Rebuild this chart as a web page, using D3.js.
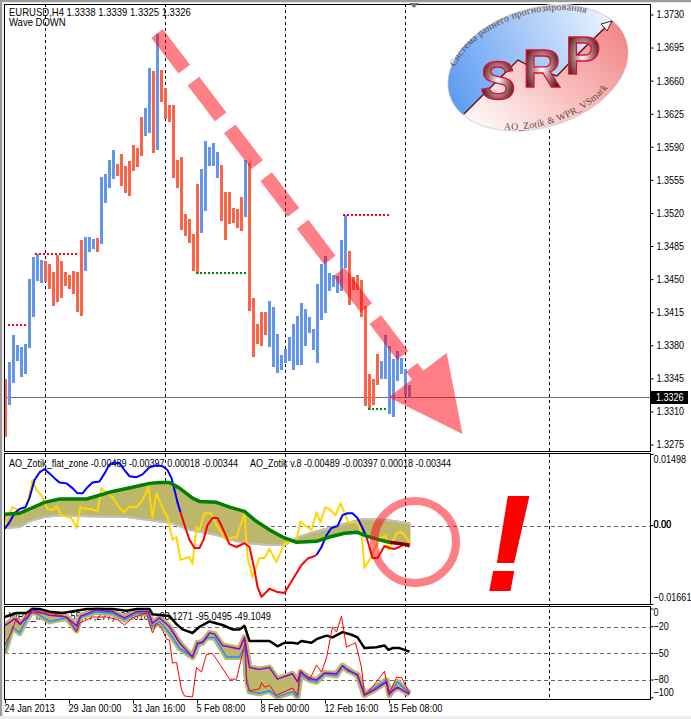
<!DOCTYPE html>
<html><head><meta charset="utf-8">
<script src="https://cdn.jsdelivr.net/npm/d3@7/dist/d3.min.js"></script>
<style>
html,body{margin:0;padding:0;background:#fff;overflow:hidden}
svg{display:block}
text{font-family:"Liberation Sans",sans-serif;font-size:10.5px;fill:#000}
.axis path.domain{display:none}
.axis line{stroke:#000}
.axis text{font-family:"Liberation Sans",sans-serif;font-size:10.5px}
</style></head><body>
<svg id="c" width="691" height="719"></svg>
<script>
// ---------- price bars (H4 EURUSD), one entry per bar ----------
const barHigh=[1.3345,1.3363,1.3391,1.3381,1.3379,1.3382,1.3451,1.3474,1.3477,1.3471,1.3470,1.3467,1.3458,1.3476,1.3470,1.3458,1.3455,1.3459,1.3458,1.3492,1.3495,1.3495,1.3493,1.3494,1.3559,1.3562,1.3577,1.3587,1.3572,1.3583,1.3570,1.3576,1.3592,1.3589,1.3622,1.3632,1.3674,1.3671,1.3710,1.3672,1.3653,1.3635,1.3635,1.3577,1.3580,1.3519,1.3514,1.3498,1.3551,1.3567,1.3597,1.3590,1.3595,1.3585,1.3571,1.3543,1.3543,1.3526,1.3525,1.3537,1.3577,1.3573,1.3431,1.3403,1.3416,1.3416,1.3427,1.3421,1.3392,1.3370,1.3377,1.3389,1.3403,1.3411,1.3425,1.3419,1.3410,1.3398,1.3445,1.3466,1.3475,1.3457,1.3455,1.3454,1.3492,1.3518,1.3480,1.3453,1.3455,1.3450,1.3422,1.3350,1.3345,1.3371,1.3364,1.3391,1.3380,1.3366,1.3374,1.3367,1.3355,1.3339];
const barLow=[1.3283,1.3317,1.3341,1.3364,1.3347,1.3350,1.3378,1.3410,1.3449,1.3446,1.3448,1.3440,1.3422,1.3426,1.3431,1.3443,1.3440,1.3435,1.3416,1.3411,1.3459,1.3479,1.3482,1.3479,1.3488,1.3531,1.3547,1.3556,1.3560,1.3549,1.3542,1.3539,1.3565,1.3569,1.3581,1.3602,1.3605,1.3584,1.3587,1.3638,1.3620,1.3617,1.3557,1.3547,1.3503,1.3496,1.3489,1.3459,1.3456,1.3499,1.3523,1.3570,1.3570,1.3557,1.3512,1.3492,1.3509,1.3510,1.3505,1.3501,1.3516,1.3417,1.3368,1.3382,1.3380,1.3391,1.3379,1.3358,1.3351,1.3354,1.3362,1.3364,1.3354,1.3360,1.3360,1.3380,1.3393,1.3375,1.3362,1.3407,1.3415,1.3438,1.3442,1.3436,1.3438,1.3462,1.3423,1.3439,1.3439,1.3410,1.3316,1.3312,1.3317,1.3339,1.3345,1.3345,1.3308,1.3305,1.3343,1.3350,1.3328,1.3325];
const barDir="d"+"u".repeat(9)+"d".repeat(10)+"uuu"+"d"+"uuuu"+"d".repeat(7)+"uu"+"d"+"u"+"d".repeat(10)+"u".repeat(5)+"d".repeat(6)+"u"+"d".repeat(5)+"u".repeat(20)+"d".repeat(8)+"u".repeat(8);
const lastPrice=1.3326;
const priceTicks=[1.3730,1.3695,1.3660,1.3625,1.3590,1.3555,1.3520,1.3485,1.3450,1.3415,1.3380,1.3345,1.3310,1.3275];
// zigzag levels: [fromBar,toBar,price]
const zigHigh=[[0.5,5.25,1.3402],[7.25,17.75,1.3477],[84.25,95.75,1.3518]];
const zigLow=[[47.5,60,1.3457],[90.5,95,1.3313]];
// time axis
const gridBars=[10,40,70,100,136];
const timeBars=[0,16,32,48,64,80,96];
const timeLabels=["24 Jan 2013","29 Jan 00:00","31 Jan 16:00","5 Feb 08:00","8 Feb 00:00","12 Feb 16:00","15 Feb 08:00"];
// ---------- AO_Zotik panel: [bar, value] ----------
const aoLine=[[-.25,-.0007],[1,.0007],[2.25,.0026],[3.5,.0035],[5,.0039],[6,.0058],[7.25,.0096],[8.5,.0112],[9.75,.0119],[11,.0110],[12.25,.0100],[13.5,.0091],[15.25,.0089],[16.75,.0079],[18,.0068],[19.25,.0068],[20.5,.0081],[21.75,.0091],[23.5,.0093],[24.75,.0110],[26,.0129],[27.25,.0133],[28.5,.0131],[29.75,.0117],[31,.0104],[32.75,.0102],[34.25,.0108],[36,.0123],[37.75,.0127],[39.25,.0125],[40.5,.0117],[41.5,.0100],[42.25,.0075],[43,.0049],[43.75,.0028],[44.75,.0001],[46,-.0030],[47.25,-.0047],[48.5,-.0047],[49.5,-.0030],[50.5,.0001],[51.75,.0016],[53,.0016],[54.25,-.0005],[56,-.0039],[57.75,-.0045],[59.75,-.0037],[61,-.0045],[62.25,-.0093],[63,-.0129],[64,-.0150],[66,-.0133],[68,-.0140],[69.75,-.0142],[71.75,-.0114],[74,-.0083],[75.75,-.0068],[76.75,-.0066],[77.75,-.0062],[79,-.0045],[80.25,-.0020],[81.5,-.0005],[83,-.0001],[84.25,.0022],[85.5,.0026],[86.75,.0026],[88,.0016],[89.25,-.0005],[90.25,-.0024],[91.75,-.0068],[93,-.0068],[94.75,-.0043],[96,-.0047],[97.25,-.0049],[98.5,-.0045],[99.75,-.0039],[101,-.0045]];
const aoSwitchBars=[43.75,77.75,90.25]; // blue → red → blue → red
const aoGreen=[[-.25,.0024],[3.5,.0026],[6,.0035],[9.75,.0049],[13.5,.0056],[20.25,.0056],[23.5,.0064],[26.75,.0072],[31.75,.0081],[36,.0089],[38.5,.0091],[41,.0091],[43.5,.0079],[46.75,.0058],[48.5,.0051],[52.75,.0049],[56,.0039],[59.75,.0030],[62.25,.0012],[66,-.0009],[69.75,-.0026],[72.75,-.0035],[77.75,-.0033],[81,-.0024],[84.75,-.0016],[88,-.0014],[90.25,-.0022],[93.5,-.0030],[96,-.0035],[101,-.0041]];
const aoGreenDarkFrom=96;
const aoGrey=[[-.25,-.0005],[3.5,-.0003],[6,.0009],[9.75,.0018],[13.5,.0022],[20.25,.0020],[30.25,.0018],[36,.0012],[41.75,.0005],[46,-.0009],[52.75,-.0020],[58.5,-.0035],[61,-.0037],[66,-.0041],[69.75,-.0041],[72.75,-.0026],[76,-.0016],[81,-.0005],[84.25,.0003],[89.25,.0014],[95.25,.0012],[101,.0005]];
const aoYellow=[[-.25,-.0003],[.5,.0018],[1.75,.0039],[3,.0033],[4,.0022],[5.25,.0043],[6.25,.0075],[6.75,.0096],[7.75,.0075],[9,.0064],[9.75,.0049],[10.5,.0035],[11.75,.0033],[12.75,.0041],[14,.0022],[16.5,.0016],[17.75,-.0005],[18.75,.0039],[20,.0035],[21.5,.0035],[23,.0030],[24,.0079],[25.25,.0068],[26.75,.0060],[28,.0043],[29.5,.0028],[31,.0039],[32.75,.0039],[34.25,.0054],[35.75,.0081],[36.75,.0018],[37.75,.0068],[39.25,.0037],[40.5,.0018],[41.75,-.0030],[42.75,-.0024],[43.75,-.0072],[46,-.0066],[46.75,-.0081],[47.75,-.0003],[48.5,-.0009],[49.75,.0026],[51.5,.0026],[52.75,.0001],[55.25,-.0030],[56.75,-.0024],[57.75,-.0026],[59.75,.0026],[60.5,-.0066],[61.75,-.0108],[63.5,-.0068],[64.75,-.0068],[66,-.0049],[67.75,-.0077],[69.75,-.0037],[72.75,-.0030],[73.75,.0009],[74.75,.0001],[76.5,-.0009],[77.75,.0028],[78.75,.0007],[80,.0039],[81,.0035],[82.5,.0022],[83.75,.0047],[85.25,.0016],[85.75,.0007],[88,.0007],[89,-.0016],[89.75,-.0089],[91,-.0072],[92.75,-.0041],[94,-.0024],[95,-.0022],[95.75,-.0051],[96.75,-.0033],[98,-.0014],[99,-.0014],[100,-.0022],[101,-.0037]];
const aoTicks=[0.01498,0,-0.01661];
const aoLevels=[0];
// ---------- WPR panel: [bar, value] ----------
const wprBlack=[[-.25,-9],[2.75,-4.5],[5.25,-4.5],[6.75,0],[8.5,0],[11,-3],[14.25,-4.5],[17.75,-2],[20.25,0],[23.5,0],[26.75,0],[30.25,-2],[32.75,0],[36,0],[36.75,-6],[39.25,-7],[41,-8],[42.75,-17],[44.25,-23],[46.75,-27],[48.5,-20],[51,-14],[54.25,-18],[56.75,-23],[58.5,-23],[59.75,-19],[61,-36],[63.5,-36],[66,-36],[68,-42],[69.75,-38],[71.75,-38],[73,-39],[74,-36],[76.5,-38],[77.75,-34],[80.25,-30],[81.75,-32],[84.25,-26],[86.5,-29],[88,-32],[89.75,-44],[92.75,-43],[94.75,-41],[95.75,-46],[96.75,-44],[98.5,-44],[101,-48]];
const wprRed=[[-.25,-41],[1.5,-26],[2.75,-10],[3.75,-18],[4.75,-10],[5.5,-4.5],[11,-4.5],[15.25,-9],[17.75,-26],[18.5,-16],[21.75,-9],[25.25,-9],[28,-12],[29.75,-18],[31.75,-10],[35.25,-4.5],[36.75,-27],[37.75,-16],[39,-21],[40.25,-34],[41,-35],[41.75,-61],[42.75,-60],[44,-91],[44.75,-98],[46.75,-99],[47.75,-66],[49,-71],[50.25,-51],[51.75,-50],[54,-65],[56,-79],[57.75,-79],[59.25,-50],[60,-35],[60.25,-83],[61,-92],[63.5,-90],[64,-83],[64.75,-88],[66,-86],[67.75,-97],[71.75,-89],[73,-97],[73.75,-69],[74.75,-74],[76,-80],[77.75,-63],[79,-71],[80.25,-55],[81.75,-20],[82.75,-26],[84,-8],[85.25,-43],[87.5,-38],[89,-66],[89.75,-97],[91.75,-88],[94.75,-70],[95.75,-97],[97.75,-77],[99,-77],[101,-95]];
const wprPurple=[[-.25,-19],[2.25,-11],[3.5,-17],[5.5,-9],[6.75,-1],[11,-7],[15.25,-9],[17.75,-19],[18.75,-8],[22.75,-1],[26.75,-3],[29.75,-10],[32.75,-3],[35.75,-3],[36.75,-16],[38.5,-10],[41,-20],[43.5,-38],[46.75,-54],[48,-38],[49.25,-38],[51,-27],[52.25,-28],[54.25,-41],[58.5,-45],[59.75,-32],[61,-66],[63.5,-68],[66,-66],[68,-79],[71.75,-73],[73,-82],[73.75,-71],[76,-78],[77.75,-80],[79.75,-72],[82.75,-73],[84.25,-64],[85.5,-69],[88,-74],[89.75,-97],[92.25,-91],[95.25,-82],[96,-95],[98,-88],[101,-96]];
const wprBlue=[[-.25,-50],[1.75,-20],[3.5,-27],[5.5,-10],[6.75,-2],[11,-14],[15.25,-10],[17.75,-24],[18.75,-9],[22.75,-3],[26.75,-5],[29.75,-12],[32.75,-5],[35.75,-5],[36.75,-20],[38.5,-14],[41,-27],[43.5,-44],[46.75,-54],[48,-41],[50.5,-32],[52.25,-32],[55.25,-54],[58.5,-54],[59.75,-43],[60.25,-77],[61,-93],[63.5,-95],[66,-92],[68,-99],[71.75,-93],[73,-99],[73.75,-74],[76,-80],[77.75,-82],[79.75,-73],[82.75,-75],[84.25,-64],[88,-75],[89.75,-97],[92.25,-89],[95.25,-80],[96,-97],[98,-82],[101,-95]];
const wprTicks=[0,-20,-50,-80,-100];
const wprLevels=[-20,-50,-80];
// annotation arrow: [bar, price]
const arrowStart=[37.875,1.37105], arrowTip=[114.25,1.32867];
// ---------- texts ----------
const titleMain="EURUSD,H4  1.3338 1.3339 1.3325 1.3326", subMain="Wave DOWN";
const titleAO1="AO_Zotik_flat_zone -0.00489 -0.00397 0.00018 -0.00344", titleAO2="AO_Zotik v.8 -0.00489 -0.00397 0.00018 -0.00344";
const titleWPR="WPR_filled(21,55,77,277) -98.6161 -93.1271 -95.0495 -49.1049";
const logoTop="Система раннего прогнозирования", logoBottom="AO_Zotik & WPR_VSmark", logoLetters=["S","R","P"];

const svg=d3.select("#c");
const R=650,L=5,T=4,B1=451,T2=453,B2=604,T3=606,B3=699;
const x=d3.scaleLinear().domain([0,101]).range([5.5,409.5]);
const y=d3.scaleLinear().domain([1.3730,1.3275]).range([15,445]);
const yA=d3.scaleLinear().domain([0.01498,-0.01661]).range([454.5,604.5]);
const yW=d3.scaleLinear().domain([0,-100]).range([609,697.8]);
// narrow the labels to the width of the original bitmap font
const condense=(sel,f)=>sel.each(function(){const n=this.getComputedTextLength();d3.select(this).attr("textLength",n*f).attr("lengthAdjust","spacingAndGlyphs");});
// chrome
svg.append("rect").attr("width",691).attr("height",719).attr("fill","#fff");
svg.append("rect").attr("x",0).attr("y",0).attr("width",691).attr("height",3).attr("fill","#e8e8e8");
svg.append("rect").attr("x",0).attr("y",0).attr("width",2).attr("height",719).attr("fill","#9a9a9a");
svg.append("rect").attr("x",2).attr("y",0).attr("width",2).attr("height",719).attr("fill","#ececec");
svg.append("rect").attr("x",0).attr("y",0).attr("width",691).attr("height",2).attr("fill","#9a9a9a");
svg.append("rect").attr("x",0).attr("y",716).attr("width",691).attr("height",3).attr("fill","#eeeeee");
const defs=svg.append("defs");
[["cp1",T,B1],["cp2",T2,B2],["cp3",T3,B3]].forEach(([id,a,b])=>defs.append("clipPath").attr("id",id).append("rect").attr("x",L).attr("y",a).attr("width",R-L).attr("height",b-a));
// vertical grid
svg.append("g").selectAll("line").data(gridBars).join("line")
 .attr("x1",d=>x(d)).attr("x2",d=>x(d)).attr("y1",T).attr("y2",B3)
 .attr("stroke","#000").attr("stroke-dasharray","3,3").attr("shape-rendering","crispEdges");
const hl=(vals,sc)=>svg.append("g").selectAll("line").data(vals).join("line")
 .attr("x1",L).attr("x2",R).attr("y1",d=>Math.round(sc(d))+.5).attr("y2",d=>Math.round(sc(d))+.5)
 .attr("stroke","#666").attr("stroke-dasharray","4,3");
hl(aoLevels,yA);hl(wprLevels,yW);
// bars
const g1=svg.append("g").attr("clip-path","url(#cp1)");
g1.append("line").attr("x1",L).attr("x2",R).attr("y1",Math.round(y(lastPrice))+.5).attr("y2",Math.round(y(lastPrice))+.5).attr("stroke","#707070");
g1.selectAll("rect.bar").data(barHigh).join("rect").attr("class","bar")
 .attr("x",(d,i)=>x(i)-1.5).attr("width",3)
 .attr("y",d=>y(d)).attr("height",(d,i)=>y(barLow[i])-y(d))
 .attr("fill",(d,i)=>barDir[i]==="u"?"#6495ED":"#FF6347").attr("shape-rendering","crispEdges");
const zig=(arr,col)=>g1.append("g").selectAll("line").data(arr).join("line")
 .attr("x1",d=>x(d[0])).attr("x2",d=>x(d[1])).attr("y1",d=>Math.round(y(d[2]))+.0).attr("y2",d=>Math.round(y(d[2])))
 .attr("stroke",col).attr("stroke-width",2).attr("stroke-dasharray","2,2").attr("shape-rendering","crispEdges");
zig(zigHigh,"#ff0022");zig(zigLow,"#008a10");
// AO panel
const g2=svg.append("g").attr("clip-path","url(#cp2)");
const lnA=d3.line().x(d=>x(d[0])).y(d=>yA(d[1]));
const lnW=d3.line().x(d=>x(d[0])).y(d=>yW(d[1]));
const poly=(a,b,ln)=>ln(a)+"L"+ln(b.slice().reverse()).slice(1)+"Z";
g2.append("path").attr("d",poly(aoGreen,aoGrey,lnA)).attr("fill","#BDB76B").attr("stroke","#BDB76B").attr("stroke-width",2);
const stroke=(g,ln,data,col,w)=>g.append("path").attr("d",ln(data)).attr("fill","none").attr("stroke",col).attr("stroke-width",w).attr("stroke-linejoin","round");
svg.append("text").attr("x",9).attr("y",467).text(titleAO1).call(condense,.86);
svg.append("text").attr("x",250).attr("y",467).text(titleAO2).call(condense,.86);
const g2b=svg.append("g").attr("clip-path","url(#cp2)");
stroke(g2b,lnA,aoGrey,"#c0c0c0",2);
stroke(g2b,lnA,aoYellow,"#FFD700",2);
const sw=aoSwitchBars,pieces=[[-1,sw[0],"#0000ff"],[sw[0],sw[1],"#ff0000"],[sw[1],sw[2],"#0000ff"],[sw[2],102,"#ff0000"]];
pieces.forEach(([a,b,c])=>stroke(g2b,lnA,aoLine.filter(d=>d[0]>=a&&d[0]<=b),c,2));
stroke(g2b,lnA,aoGreen.filter(d=>d[0]<=aoGreenDarkFrom),"#008000",3.5);
stroke(g2b,lnA,aoGreen.filter(d=>d[0]>=aoGreenDarkFrom),"#800000",3.5);
// WPR panel
svg.append("text").attr("x",9).attr("y",620).text(titleWPR).call(condense,.88);
const g3=svg.append("g").attr("clip-path","url(#cp3)");
g3.append("path").attr("d",poly(wprPurple,wprBlue,lnW)).attr("fill","#BDB76B");
stroke(g3,lnW,wprPurple,"#BDB76B",6);stroke(g3,lnW,wprBlue,"#BDB76B",6);
stroke(g3,lnW,wprBlack,"#000",2.5);
stroke(g3,lnW,wprBlue,"#1E90FF",1.5);
stroke(g3,lnW,wprRed,"#ff0000",1);
stroke(g3,lnW,wprPurple,"#9400D3",1.5);
// frames
[[T,B1],[T2,B2],[T3,B3]].forEach(([a,b])=>svg.append("rect").attr("x",L-.5).attr("y",a+.5).attr("width",R-L+.5+.5).attr("height",b-a).attr("fill","none").attr("stroke","#000"));
// axes
const axM=svg.append("g").attr("class","axis").attr("transform",`translate(${R+.5},0)`).call(d3.axisRight(y).tickValues(priceTicks).tickSize(3).tickPadding(3).tickFormat(d3.format(".4f")).offset(0));
const axA=svg.append("g").attr("class","axis").attr("transform",`translate(${R+.5},0)`).call(d3.axisRight(yA).tickValues(aoTicks).tickSize(3).tickPadding(0).tickFormat(d=>d===0?"0.00":d3.format(".5f")(d)).offset(0));
axA.selectAll("text").attr("dy",d=>d===aoTicks[0]?"0.85em":d===aoTicks[2]?"-0.35em":"0.2em");
svg.append("text").attr("class","zero").attr("x",R+3.6).attr("y",yA(0)+2.1).text("0.00").call(condense,.87);
const axW=svg.append("g").attr("class","axis").attr("transform",`translate(${R+.5},0)`).call(d3.axisRight(yW).tickValues(wprTicks).tickSize(3).tickPadding(0).offset(0));
axW.selectAll("text").attr("dy",d=>d===0?"0.7em":d===-100?"-0.15em":"0.32em");
const axT=svg.append("g").attr("class","axis").attr("transform",`translate(0,${B3+.5})`).call(d3.axisBottom(x).tickValues(timeBars).tickSize(4).tickPadding(1).tickFormat((d,i)=>timeLabels[i]).offset(0));
axT.selectAll("text").attr("text-anchor","start").attr("dx","-1");
[axM,axA,axW].forEach(a=>a.selectAll("text").call(condense,.86));
axT.selectAll("text").call(condense,.87);
// current price box
const ly=Math.round(y(lastPrice));
svg.append("rect").attr("x",R+1).attr("y",ly-6).attr("width",37).attr("height",13).attr("fill","#000");
svg.append("text").attr("x",R+6).attr("y",ly+4).style("fill","#fff").text(d3.format(".4f")(lastPrice)).call(condense,.86);
svg.append("path").attr("d","M409,3H419L414,8Z").attr("fill","#777");
// chart titles
svg.append("text").attr("x",9).attr("y",16).text(titleMain).call(condense,.905);
svg.append("text").attr("x",9).attr("y",26).text(subMain).call(condense,.905);
// arrow annotation
const ax0=x(arrowStart[0]),ay0=y(arrowStart[1]),ax1=x(arrowTip[0]),ay1=y(arrowTip[1]);
const len=Math.hypot(ax1-ax0,ay1-ay0),ux=(ax1-ax0)/len,uy=(ay1-ay0)/len;
const bl=len-74,bx=ax0+ux*bl,by=ay0+uy*bl,hw=36.5;
const ann=svg.append("g").attr("opacity",.5);
ann.append("path").attr("d",`M${ax0},${ay0}L${bx+ux},${by+uy}`).attr("stroke","#ff0010").attr("stroke-width",14.5).attr("stroke-dasharray","45,15").attr("fill","none");
ann.append("path").attr("d",`M${bx-uy*hw},${by+ux*hw}L${bx+uy*hw},${by-ux*hw}L${ax1},${ay1}Z`).attr("fill","#ff0010");
svg.append("circle").attr("cx",415).attr("cy",542).attr("r",41).attr("fill","none").attr("stroke","#ff0010").attr("stroke-width",8).attr("opacity",.5);
// exclamation mark
svg.append("text").attr("x",508).attr("y",590).attr("text-anchor","middle")
 .style("font-weight","bold").style("font-style","italic").style("font-size","136px").style("fill","#ff0000").style("stroke","#ff0000").style("stroke-width","2px").text("!");
// logo
const gb=defs.append("linearGradient").attr("id","gb").attr("x1","0").attr("y1","0.5").attr("x2","1").attr("y2","0.2");
gb.append("stop").attr("offset","0").attr("stop-color","#5e9df2");gb.append("stop").attr("offset","1").attr("stop-color","#ffffff");
const gp=defs.append("linearGradient").attr("id","gp").attr("x1","1").attr("y1","0.2").attr("x2","0.1").attr("y2","0.9");
gp.append("stop").attr("offset","0").attr("stop-color","#f28080");gp.append("stop").attr("offset","1").attr("stop-color","#ffffff");
const gl=defs.append("radialGradient").attr("id","gl");
gl.append("stop").attr("offset","0").attr("stop-color","#ffffff");gl.append("stop").attr("offset",".55").attr("stop-color","#a87070");gl.append("stop").attr("offset","1").attr("stop-color","#4a1010");
const ecx=538,ecy=68,ea=92.5,eb=59.5,rot=-17;
defs.append("clipPath").attr("id","ce").append("ellipse").attr("cx",ecx).attr("cy",ecy).attr("rx",ea).attr("ry",eb).attr("transform",`rotate(${rot} ${ecx} ${ecy})`);
const lg=svg.append("g");
lg.append("ellipse").attr("cx",ecx).attr("cy",ecy).attr("rx",ea+1).attr("ry",eb+1).attr("transform",`rotate(${rot} ${ecx} ${ecy})`).attr("fill","#fff");
const zz="M464,114L518,60L537,70L557,76L580,52L612,21";
const cl=lg.append("g").attr("clip-path","url(#ce)");
cl.append("rect").attr("x",440).attr("y",0).attr("width",195).attr("height",140).attr("fill","url(#gp)");
cl.append("path").attr("d",zz+"L640,0L440,0L440,140Z").attr("fill","url(#gb)");
lg.append("ellipse").attr("cx",ecx).attr("cy",ecy).attr("rx",ea).attr("ry",eb).attr("transform",`rotate(${rot} ${ecx} ${ecy})`).attr("fill","none").attr("stroke","#c9c9c9").attr("stroke-width",.7);
lg.append("path").attr("d",zz).attr("fill","none").attr("stroke","#5a1010").attr("stroke-width",1.4);
lg.append("path").attr("d","M612,21L601,24L607,31Z").attr("fill","#fff").attr("stroke","#5a1010");
[[498,99],[542,87],[583,74]].forEach(([px,py],i)=>lg.append("text").attr("x",px).attr("y",py).attr("text-anchor","middle")
 .style("font-weight","bold").style("font-size","53px").style("fill","url(#gl)").style("stroke","#d5103c").style("stroke-width","1.3px").text(logoLetters[i]));
defs.append("path").attr("id","arcT").attr("d","M455,68A88 54 -17 0 1 597,17");
defs.append("path").attr("id","arcB").attr("d","M500,129A90 58 -17 0 0 612,82");
const tp=(id,s,off)=>lg.append("text").style("font-family","'Liberation Serif'").style("font-size","9.8px").style("letter-spacing","0.2px").style("fill","#6b4a3a")
 .append("textPath").attr("href","#"+id).attr("startOffset",off).text(s);
tp("arcT",logoTop,"1");tp("arcB",logoBottom,"4");
</script>
</body></html>
